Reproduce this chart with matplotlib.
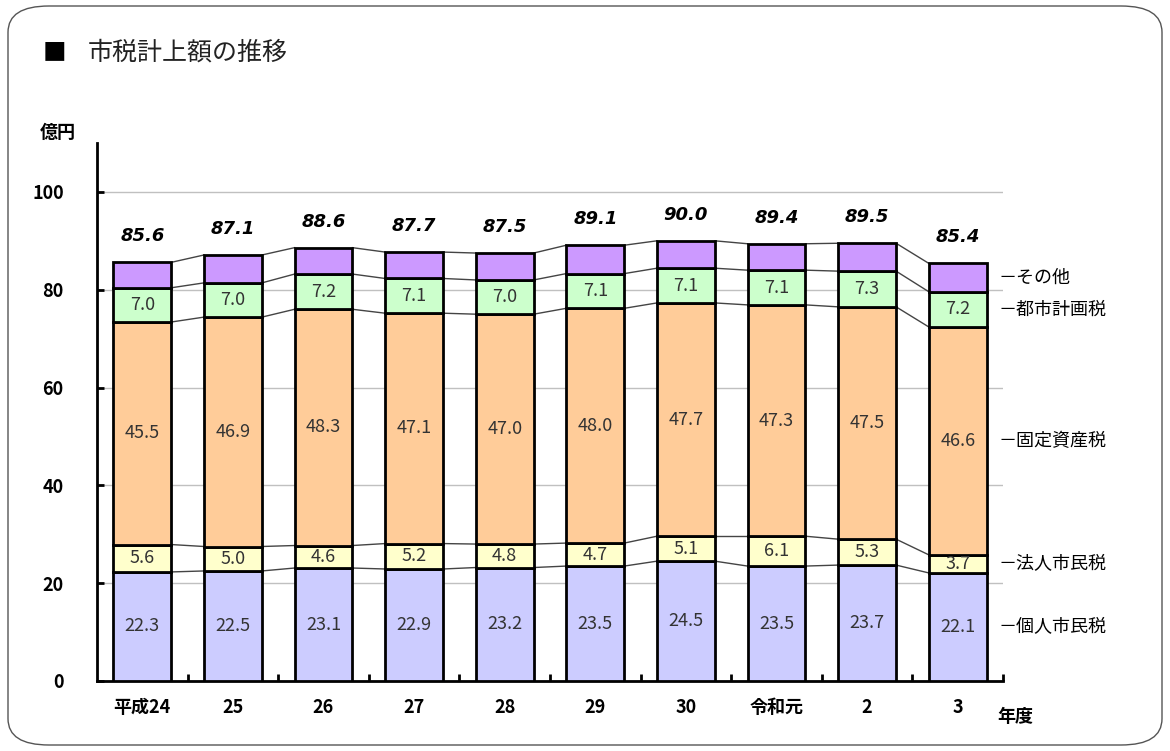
import matplotlib
matplotlib.use("Agg")
import matplotlib.pyplot as plt
from matplotlib.patches import FancyBboxPatch
import numpy as np

plt.rcParams['font.family'] = ['Noto Sans CJK JP', 'DejaVu Sans']

# =========================
# DATOS
# =========================
years = ["平成24", "25", "26", "27", "28", "29", "30", "令和元", "2", "3"]
kojin = [22.3, 22.5, 23.1, 22.9, 23.2, 23.5, 24.5, 23.5, 23.7, 22.1]
hojin = [5.6, 5.0, 4.6, 5.2, 4.8, 4.7, 5.1, 6.1, 5.3, 3.7]
kotei = [45.5, 46.9, 48.3, 47.1, 47.0, 48.0, 47.7, 47.3, 47.5, 46.6]
toshi = [7.0, 7.0, 7.2, 7.1, 7.0, 7.1, 7.1, 7.1, 7.3, 7.2]
totals = [85.6, 87.1, 88.6, 87.7, 87.5, 89.1, 90.0, 89.4, 89.5, 85.4]
sonota = [round(t - a - b - c - d, 1) for t, a, b, c, d in zip(totals, kojin, hojin, kotei, toshi)]

series_names = ["個人市民税", "法人市民税", "固定資産税", "都市計画税", "その他"]
series = [kojin, hojin, kotei, toshi, sonota]
colors = ["#CCCCFF", "#FFFFCC", "#FFCC99", "#CCFFCC", "#CC99FF"]
show_value = [True, True, True, True, False]

# =========================
# GRAFICO
# =========================
fig = plt.figure(figsize=(11.7, 7.51), dpi=100)

# marco redondeado
frame = FancyBboxPatch((8 / 1170, 6 / 751), 1154 / 1170, 739 / 751,
                       boxstyle="round,pad=0,rounding_size=0.035",
                       transform=fig.transFigure, fill=False,
                       edgecolor="#555555", linewidth=1.0)
fig.patches.append(frame)

ax = fig.add_axes([97 / 1170, (751 - 681) / 751, 906 / 1170, 538 / 751])

x = np.arange(len(years))
width = 0.64
bottom = np.zeros(len(years))
levels = []
for vals, col, show in zip(series, colors, show_value):
    vals = np.array(vals)
    ax.bar(x, vals, width, bottom=bottom, color=col, edgecolor="black", linewidth=2, zorder=3)
    if show:
        for xi, b, v in zip(x, bottom, vals):
            ax.text(xi, b + v / 2, f"{v:.1f}", ha="center", va="center",
                    fontsize=13, color="#333333", zorder=4)
    bottom = bottom + vals
    levels.append(bottom.copy())

# lineas de serie entre barras
for lev in levels:
    for i in range(len(x) - 1):
        ax.plot([x[i] + width / 2, x[i + 1] - width / 2], [lev[i], lev[i + 1]],
                color="#444444", linewidth=1, zorder=2)

# totales
for xi, t in zip(x, totals):
    ax.text(xi, t + 3.5, f"{t:.1f}", ha="center", va="bottom", fontsize=13,
            fontweight="bold", fontstyle="italic", family="DejaVu Sans", zorder=4)

# nombres de serie a la derecha
last = len(x) - 1
prev = 0
for name, lev in zip(series_names, levels):
    mid = (prev + lev[last]) / 2
    ax.text(x[last] + width / 2 + 0.13, mid, "－" + name, ha="left", va="center",
            fontsize=13, clip_on=False)
    prev = lev[last]

ax.set_xlim(-0.5, len(x) - 0.5)
ax.set_ylim(0, 110)
ax.set_yticks([0, 20, 40, 60, 80, 100])
ax.set_yticklabels(["0", "20", "40", "60", "80", "100"], fontsize=13, fontweight="bold")
ax.yaxis.grid(True, color="#C0C0C0", linewidth=1, zorder=0)
ax.set_xticks(x)
ax.set_xticklabels(years, fontsize=13, fontweight="bold")
ax.tick_params(axis="x", length=0, pad=12)
ax.set_xticks(np.arange(0.5, len(x)), minor=True)
ax.tick_params(axis="x", which="minor", direction="in", length=5, width=2)
ax.tick_params(axis="y", direction="in", length=5, width=2, pad=24)

for s in ["top", "right"]:
    ax.spines[s].set_visible(False)
ax.spines["left"].set_linewidth(2)
ax.spines["bottom"].set_linewidth(2)

fig.text(43 / 1170, 1 - 53 / 751, "■", fontsize=17, va="center", ha="left")
fig.text(88 / 1170, 1 - 53 / 751, "市税計上額の推移", fontsize=18, va="center", ha="left",
         color="#222222")
fig.text(40 / 1170, 1 - 132 / 751, "億円", fontsize=13, fontweight="bold", va="center", ha="left")
fig.text(997 / 1170, 1 - 716 / 751, "年度", fontsize=13, fontweight="bold", va="center", ha="left")

plt.savefig("out.png", dpi=100)
